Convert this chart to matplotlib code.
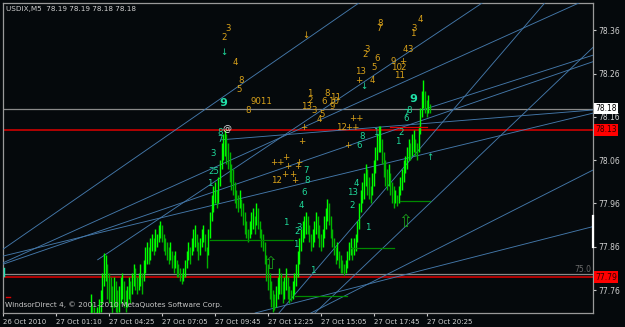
import matplotlib
matplotlib.use("Agg")
import matplotlib.pyplot as plt

# ---------------- data ----------------
first_bar = 53
highs = [77.75, 77.73, 77.72, 77.71, 77.72, 77.74, 77.76, 77.80, 77.845, 77.84,
         77.82, 77.80, 77.79, 77.77, 77.79, 77.78, 77.76, 77.77, 77.79, 77.80,
         77.78, 77.76, 77.77, 77.79, 77.78, 77.80, 77.82, 77.81, 77.79, 77.80,
         77.82, 77.80, 77.83, 77.86, 77.87, 77.86, 77.88, 77.89, 77.88, 77.90,
         77.89, 77.91, 77.92, 77.91, 77.89, 77.88, 77.87, 77.86, 77.87, 77.85,
         77.84, 77.85, 77.83, 77.82, 77.81, 77.80, 77.81, 77.83, 77.85, 77.87,
         77.86, 77.88, 77.90, 77.91, 77.89, 77.87, 77.88, 77.90, 77.91, 77.89,
         77.86, 77.90, 77.94, 77.98, 78.00, 78.01, 77.99, 78.02, 78.06, 78.10,
         78.12, 78.13, 78.12, 78.10, 78.08, 78.05, 78.04, 78.01, 77.99, 77.98,
         77.99, 77.97, 77.96, 77.94, 77.92, 77.90, 77.92, 77.94, 77.95, 77.93,
         77.96, 77.95, 77.92, 77.90, 77.89, 77.87, 77.84, 77.82, 77.80, 77.78,
         77.76, 77.75, 77.77, 77.79, 77.81, 77.80, 77.78, 77.79, 77.81, 77.79,
         77.77, 77.76, 77.78, 77.80, 77.82, 77.85, 77.88, 77.90, 77.92, 77.93,
         77.94, 77.93, 77.91, 77.89, 77.90, 77.92, 77.94, 77.93, 77.91, 77.89,
         77.90, 77.93, 77.95, 77.97, 77.96, 77.93, 77.90, 77.88, 77.86, 77.87,
         77.85, 77.84, 77.83, 77.82, 77.83, 77.85, 77.87, 77.88, 77.86, 77.88,
         77.89, 77.92, 77.96, 77.99, 78.01, 78.03, 78.05, 78.04, 78.02, 78.00,
         78.03, 78.06, 78.09, 78.12, 78.14, 78.14, 78.11, 78.08, 78.06, 78.04,
         78.05, 78.03, 78.01, 78.00, 77.99, 77.98, 78.00, 78.02, 78.04, 78.06,
         78.07, 78.09, 78.11, 78.10, 78.12, 78.13, 78.11, 78.10, 78.14, 78.18,
         78.22, 78.245, 78.22, 78.20, 78.21, 78.19]
lows = [77.70, 77.69, 77.68, 77.67, 77.68, 77.69, 77.71, 77.73, 77.77, 77.78,
        77.74, 77.73, 77.72, 77.70, 77.72, 77.71, 77.70, 77.71, 77.73, 77.74,
        77.72, 77.71, 77.72, 77.74, 77.73, 77.75, 77.77, 77.76, 77.75, 77.76,
        77.77, 77.75, 77.78, 77.80, 77.82, 77.82, 77.83, 77.85, 77.84, 77.85,
        77.86, 77.87, 77.88, 77.87, 77.85, 77.84, 77.83, 77.82, 77.83, 77.81,
        77.80, 77.81, 77.79, 77.79, 77.78, 77.775, 77.78, 77.79, 77.81, 77.83,
        77.82, 77.84, 77.85, 77.86, 77.85, 77.83, 77.84, 77.86, 77.87, 77.85,
        77.81, 77.84, 77.88, 77.92, 77.94, 77.96, 77.95, 77.96, 78.00, 78.04,
        78.06, 78.07, 78.05, 78.04, 78.01, 77.99, 77.98, 77.96, 77.95, 77.94,
        77.95, 77.93, 77.91, 77.89, 77.88, 77.87, 77.88, 77.89, 77.90, 77.89,
        77.91, 77.90, 77.88, 77.86, 77.85, 77.82, 77.78, 77.76, 77.74, 77.72,
        77.71, 77.715, 77.72, 77.74, 77.75, 77.75, 77.73, 77.74, 77.76, 77.74,
        77.73, 77.735, 77.74, 77.75, 77.77, 77.79, 77.82, 77.85, 77.87, 77.88,
        77.89, 77.89, 77.87, 77.85, 77.86, 77.87, 77.89, 77.88, 77.86, 77.85,
        77.86, 77.88, 77.90, 77.92, 77.91, 77.88, 77.86, 77.84, 77.82, 77.83,
        77.81, 77.80, 77.80, 77.795, 77.80, 77.81, 77.83, 77.84, 77.83, 77.84,
        77.85, 77.87, 77.90, 77.94, 77.96, 77.97, 78.00, 77.98, 77.97, 77.96,
        77.98, 78.00, 78.03, 78.06, 78.08, 78.08, 78.05, 78.02, 78.00, 77.99,
        78.00, 77.98, 77.96, 77.95, 77.96, 77.955, 77.96, 77.98, 77.99, 78.01,
        78.03, 78.04, 78.06, 78.06, 78.07, 78.08, 78.07, 78.06, 78.08, 78.12,
        78.16, 78.18, 78.17, 78.16, 78.17, 78.17]

time_tick_bars = [0, 32, 64, 96, 128, 160, 192, 224, 256]
time_tick_labels = ["26 Oct 2010", "27 Oct 01:10", "27 Oct 04:25", "27 Oct 07:05",
                    "27 Oct 09:45", "27 Oct 12:25", "27 Oct 15:05", "27 Oct 17:45",
                    "27 Oct 20:25"]
price_ticks = [78.36, 78.26, 78.16, 78.06, 77.96, 77.86, 77.76]

red_levels = [78.13, 77.79]
gray_levels = [78.178, 77.797]

# trend lines: (bar1, price1, bar2, price2)
trend_lines = [
    (-0.5, 77.853, 216.1, 78.426),
    (-0.5, 77.822, 349.6, 78.426),
    (57.2, 77.830, 290.6, 78.426),
    (-0.5, 77.838, 356.8, 78.169),
    (-0.5, 77.819, 356.8, 78.288),
    (131.8, 78.107, 356.8, 78.176),
    (166.7, 77.707, 327.9, 78.426),
    (188.4, 77.707, 356.8, 78.322),
    (186.0, 77.707, 356.8, 78.038),
    (152.3, 77.707, 356.8, 77.907),
    (253.3, 78.176, 356.8, 78.303),
]
# short green horizontal segments: (bar1, bar2, price)
green_segments = [(125.1, 175.2, 77.876), (176.3, 208.1, 77.747),
                  (210.0, 236.0, 77.857), (239.6, 258.2, 77.966)]
red_segment = (234.0, 256.0, 78.137)

yellow_labels = [
    ("3", 135.9, 78.363), ("2", 133.8, 78.344), ("4", 140.3, 78.285), ("8", 143.6, 78.245),
    ("5", 142.9, 78.224), ("8", 148.0, 78.175), ("9011", 155.9, 78.196), ("↓", 183.1, 78.349),
    ("1", 185.3, 78.215), ("2", 185.7, 78.197), ("8", 195.6, 78.215), ("6", 193.7, 78.196),
    ("11", 200.9, 78.205), ("10", 199.9, 78.195), ("9", 199.0, 78.184), ("13", 183.1, 78.184),
    ("3", 187.9, 78.175), ("5", 192.7, 78.165), ("4", 190.8, 78.155), ("8", 227.6, 78.376),
    ("7", 226.9, 78.363), ("4", 252.1, 78.385), ("3", 248.5, 78.363), ("1", 247.6, 78.353),
    ("3", 219.7, 78.315), ("2", 219.0, 78.305), ("6", 225.7, 78.294), ("5", 224.0, 78.273),
    ("13", 216.1, 78.264), ("4", 223.0, 78.245), ("+", 214.9, 78.245), ("9", 236.0, 78.287),
    ("+", 241.3, 78.287), ("10", 237.7, 78.273), ("2", 241.8, 78.273), ("11", 239.4, 78.255),
    ("4", 243.2, 78.315), ("3", 246.1, 78.315), ("12", 165.0, 78.013), ("12", 204.7, 78.135),
    ("+", 181.9, 78.135), ("+", 180.4, 78.104), ("+", 170.8, 78.067), ("++", 166.0, 78.054),
    ("+", 172.0, 78.045), ("+", 178.8, 78.054), ("+", 178.3, 78.045), ("+", 169.9, 78.027),
    ("+", 175.2, 78.027), ("+", 176.4, 78.014), ("++", 211.2, 78.135), ("++", 213.4, 78.156),
    ("+", 208.3, 78.095),
]
teal_labels = [
    ("8", 131.4, 78.125), ("7", 130.9, 78.107), ("3", 127.0, 78.075), ("25", 127.5, 78.034),
    ("1", 125.1, 78.005), ("7", 182.8, 78.036), ("8", 183.8, 78.014), ("6", 181.9, 77.986),
    ("4", 180.4, 77.955), ("1", 171.0, 77.915), ("3", 178.8, 77.905), ("2", 177.6, 77.896),
    ("1", 176.8, 77.865), ("1", 187.4, 77.806), ("4", 213.6, 78.005), ("13", 211.2, 77.985),
    ("2", 211.0, 77.955), ("1", 220.4, 77.904), ("8", 216.8, 78.115), ("6", 214.9, 78.095),
    ("1", 225.4, 78.123), ("2", 240.4, 78.123), ("1", 238.7, 78.103), ("7", 243.7, 78.167),
    ("8", 245.6, 78.175), ("6", 243.5, 78.156), ("↓", 133.3, 78.309), ("↓", 218.2, 78.229),
    ("↑", 257.7, 78.065),
]
big_nine_labels = [("9", 133.3, 78.192), ("9", 247.6, 78.202)]
arrow_labels = [("⇧", 161.2, 77.82), ("⇧", 243.0, 77.917)]
white_labels = [("@", 135.4, 78.134)]

# ---------------- drawing ----------------
BG = "#05090c"
W, H = 625, 327
fig = plt.figure(figsize=(W / 100, H / 100), dpi=100, facecolor=BG)
ax = fig.add_axes([3 / W, 1 - 313 / H, 590 / W, 310 / H], facecolor=BG)
ax.set_xlim(0.1, 356.4)
ax.set_ylim(77.707, 78.423)

for lvl in gray_levels:
    ax.axhline(lvl, color="#8a8a8a", lw=0.9, zorder=2)
for lvl in red_levels:
    ax.axhline(lvl, color="#e00000", lw=1.1, zorder=2)

for (b1, p1, b2, p2) in trend_lines:
    ax.plot([b1, b2], [p1, p2], color="#4478aa", lw=0.65, zorder=3)

xs = list(range(first_bar, first_bar + len(highs)))
colors = []
prev_mid = None
for h, l in zip(highs, lows):
    mid = (h + l) / 2
    colors.append("#00ff00" if (prev_mid is None or mid >= prev_mid) else "#00b400")
    prev_mid = mid
ax.vlines(xs, lows, highs, colors=colors, lw=1.0, zorder=4)

for (b1, b2, p) in green_segments:
    ax.plot([b1, b2], [p, p], color="#008a00", lw=0.9, zorder=4)
ax.plot([red_segment[0], red_segment[1]], [red_segment[2], red_segment[2]],
        color="#e00000", lw=0.9, zorder=4)

# small marks at the left edge
ax.plot([0.8, 0.8], [77.793, 77.81], color="#20e0b0", lw=1.0, zorder=5)
ax.plot([2.0, 4.5], [77.745, 77.745], color="#e00000", lw=1.0, zorder=5)

tf = dict(ha="center", va="center", zorder=6, family="DejaVu Sans")
for t, b, p in yellow_labels:
    ax.text(b, p, t, color="#d9a21a", fontsize=6.2, **tf)
for t, b, p in teal_labels:
    ax.text(b, p, t, color="#1fd99a", fontsize=6.2, **tf)
for t, b, p in big_nine_labels:
    ax.text(b, p, t, color="#20e0a8", fontsize=8, fontweight="bold", **tf)
for t, b, p in arrow_labels:
    ax.text(b, p, t, color="#1a9a1a", fontsize=12, **tf)
for t, b, p in white_labels:
    ax.text(b, p, t, color="#e8e8e8", fontsize=6.5, **tf)

# right axis
ax.yaxis.tick_right()
ax.set_yticks(price_ticks)
ax.set_yticklabels([f"{v:.2f}" for v in price_ticks])
ax.tick_params(axis="y", colors="#c8c8c8", labelsize=5.5, length=2, width=0.8, pad=2,
               labelcolor="#d0d0d0")
ax.set_xticks(time_tick_bars)
ax.set_xticklabels(time_tick_labels)
for lab in ax.get_xticklabels():
    lab.set_horizontalalignment("left")
ax.tick_params(axis="x", colors="#c8c8c8", labelsize=5.0, length=2, width=0.8, pad=2.5,
               labelcolor="#d0d0d0")
for s in ax.spines.values():
    s.set_color("#9a9a9a")
    s.set_linewidth(0.9)

yt = ax.get_yaxis_transform()
ax.text(1.004, 78.18, "78.18", transform=yt, ha="left", va="center", fontsize=5.5,
        color="#000000", zorder=10, clip_on=False,
        bbox=dict(boxstyle="square,pad=0.15", fc="#ffffff", ec="none"))
for lvl in red_levels:
    ax.text(1.004, lvl, f"{lvl:.2f}", transform=yt, ha="left", va="center", fontsize=5.5,
            color="#300000", zorder=10, clip_on=False,
            bbox=dict(boxstyle="square,pad=0.15", fc="#ff0000", ec="none"))
ax.text(0.998, 77.797, "75.0", transform=yt, ha="right", va="bottom", fontsize=5.5,
        color="#6a6a6a", zorder=6)
ax.plot([1.0, 1.0], [77.86, 77.93], transform=yt, color="#ffffff", lw=1.6,
        clip_on=False, zorder=10)

fig.text(6 / W, 1 - 9 / H, "USDIX,M5  78.19 78.19 78.18 78.18", color="#d0d0d0",
         fontsize=5.2, ha="left", va="center")
fig.text(5 / W, 1 - 305 / H, "WindsorDirect 4, © 2001-2010 MetaQuotes Software Corp.",
         color="#c8c8c8", fontsize=5.3, ha="left", va="center", zorder=20)

fig.savefig("out.png", dpi=100, facecolor=BG)
